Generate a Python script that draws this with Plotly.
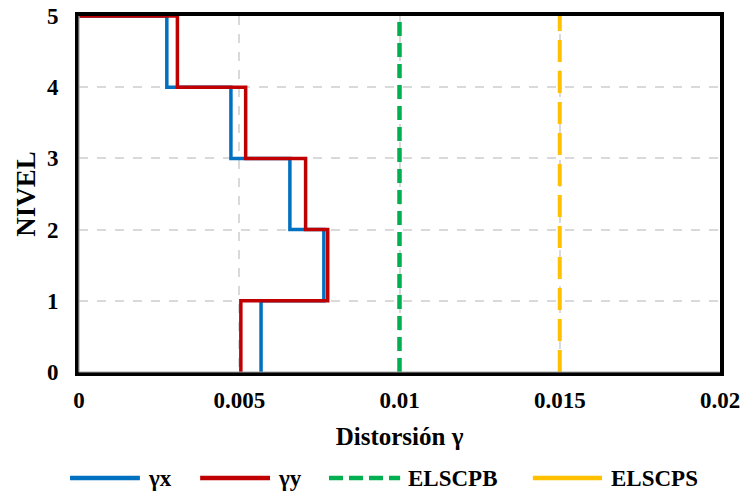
import plotly.graph_objects as go

levels = [0, 1, 2, 3, 4, 5]
drift_x = [0.00568, 0.00764, 0.00658, 0.00474, 0.00274, 0.0]
drift_y = [0.00505, 0.00776, 0.00707, 0.00520, 0.00307, 0.0]
limit_b = 0.01
limit_s = 0.015
x_ticks = [0, 0.005, 0.01, 0.015, 0.02]
x_labels = ["0", "0.005", "0.01", "0.015", "0.02"]
series_names = ["γx", "γy", "ELSCPB", "ELSCPS"]
series_colors = ["#0070C0", "#C00000", "#00B050", "#FFC000"]

font_family = "Times New Roman, Liberation Serif, serif"

fig = go.Figure()
fig.add_trace(go.Scatter(x=drift_x, y=levels, mode="lines", line_shape="vh",
                         name=series_names[0], line=dict(color=series_colors[0], width=3.5)))
fig.add_trace(go.Scatter(x=drift_y, y=levels, mode="lines", line_shape="vh",
                         name=series_names[1], line=dict(color=series_colors[1], width=3.5)))
fig.add_trace(go.Scatter(x=[limit_b, limit_b], y=[levels[0], levels[-1]], mode="lines",
                         name=series_names[2],
                         line=dict(color=series_colors[2], width=4.5, dash="14px,7px")))
fig.add_trace(go.Scatter(x=[limit_s, limit_s], y=[levels[0], levels[-1]], mode="lines",
                         name=series_names[3],
                         line=dict(color=series_colors[3], width=4, dash="22px,9px")))

# manual legend (paper coordinates)
leg_y = -0.298
leg_items = [(-0.014, 0.095, 0.1045), (0.189, 0.298, 0.307),
             (0.390, 0.501, 0.510), (0.708, 0.816, 0.827)]
leg_dash = ["solid", "solid", "14px,6px", "solid"]
shapes = []
annotations = []
for (x0, x1, xt), name, col, dsh in zip(leg_items, series_names, series_colors, leg_dash):
    shapes.append(dict(type="line", xref="paper", yref="paper", x0=x0, x1=x1, y0=leg_y, y1=leg_y,
                       line=dict(color=col, width=4.5, dash=dsh)))
    annotations.append(dict(xref="paper", yref="paper", x=xt, y=leg_y, xanchor="left",
                            yanchor="middle", showarrow=False, text=f"<b>{name}</b>",
                            font=dict(family=font_family, size=23, color="black")))
# inner gray lines on left and bottom frame (Excel-like double line)
shapes.append(dict(type="line", xref="paper", yref="paper", x0=0, x1=0, y0=0, y1=1,
                   line=dict(color="#A6A6A6", width=1.2), layer="above"))
shapes.append(dict(type="line", xref="paper", yref="paper", x0=0, x1=1, y0=0, y1=0,
                   line=dict(color="#A6A6A6", width=1.2), layer="above"))

fig.update_layout(
    width=743, height=495,
    margin=dict(l=79, r=23, t=16, b=123),
    paper_bgcolor="white", plot_bgcolor="white",
    font=dict(family=font_family, color="black", size=23),
    showlegend=False,
    shapes=shapes, annotations=annotations,
    xaxis=dict(range=[0, 0.02], tickvals=x_ticks, ticktext=[f"<b>{t}</b>" for t in x_labels],
               showgrid=True, gridcolor="#D9D9D9", griddash="dash", gridwidth=1.5,
               zeroline=False, showline=True, linecolor="black", linewidth=4, mirror=True,
               ticks="", tickfont=dict(size=23), automargin=False, ticklabelstandoff=4,
               title=dict(text="<b>Distorsión γ</b>", font=dict(size=25), standoff=17)),
    yaxis=dict(range=[0, 5], tickvals=levels, ticktext=[f"<b>{v}</b>" for v in levels],
               showgrid=True, gridcolor="#D9D9D9", griddash="dash", gridwidth=1.5,
               zeroline=False, showline=True, linecolor="black", linewidth=4, mirror=True,
               ticks="", tickfont=dict(size=23), automargin=False, ticklabelstandoff=12,
               title=dict(text="<b>NIVEL</b>", font=dict(size=27), standoff=4)),
)
fig.write_html("out.html", config={"displayModeBar": False},
               post_script="document.body.style.margin='0';document.body.style.overflow='hidden';")
